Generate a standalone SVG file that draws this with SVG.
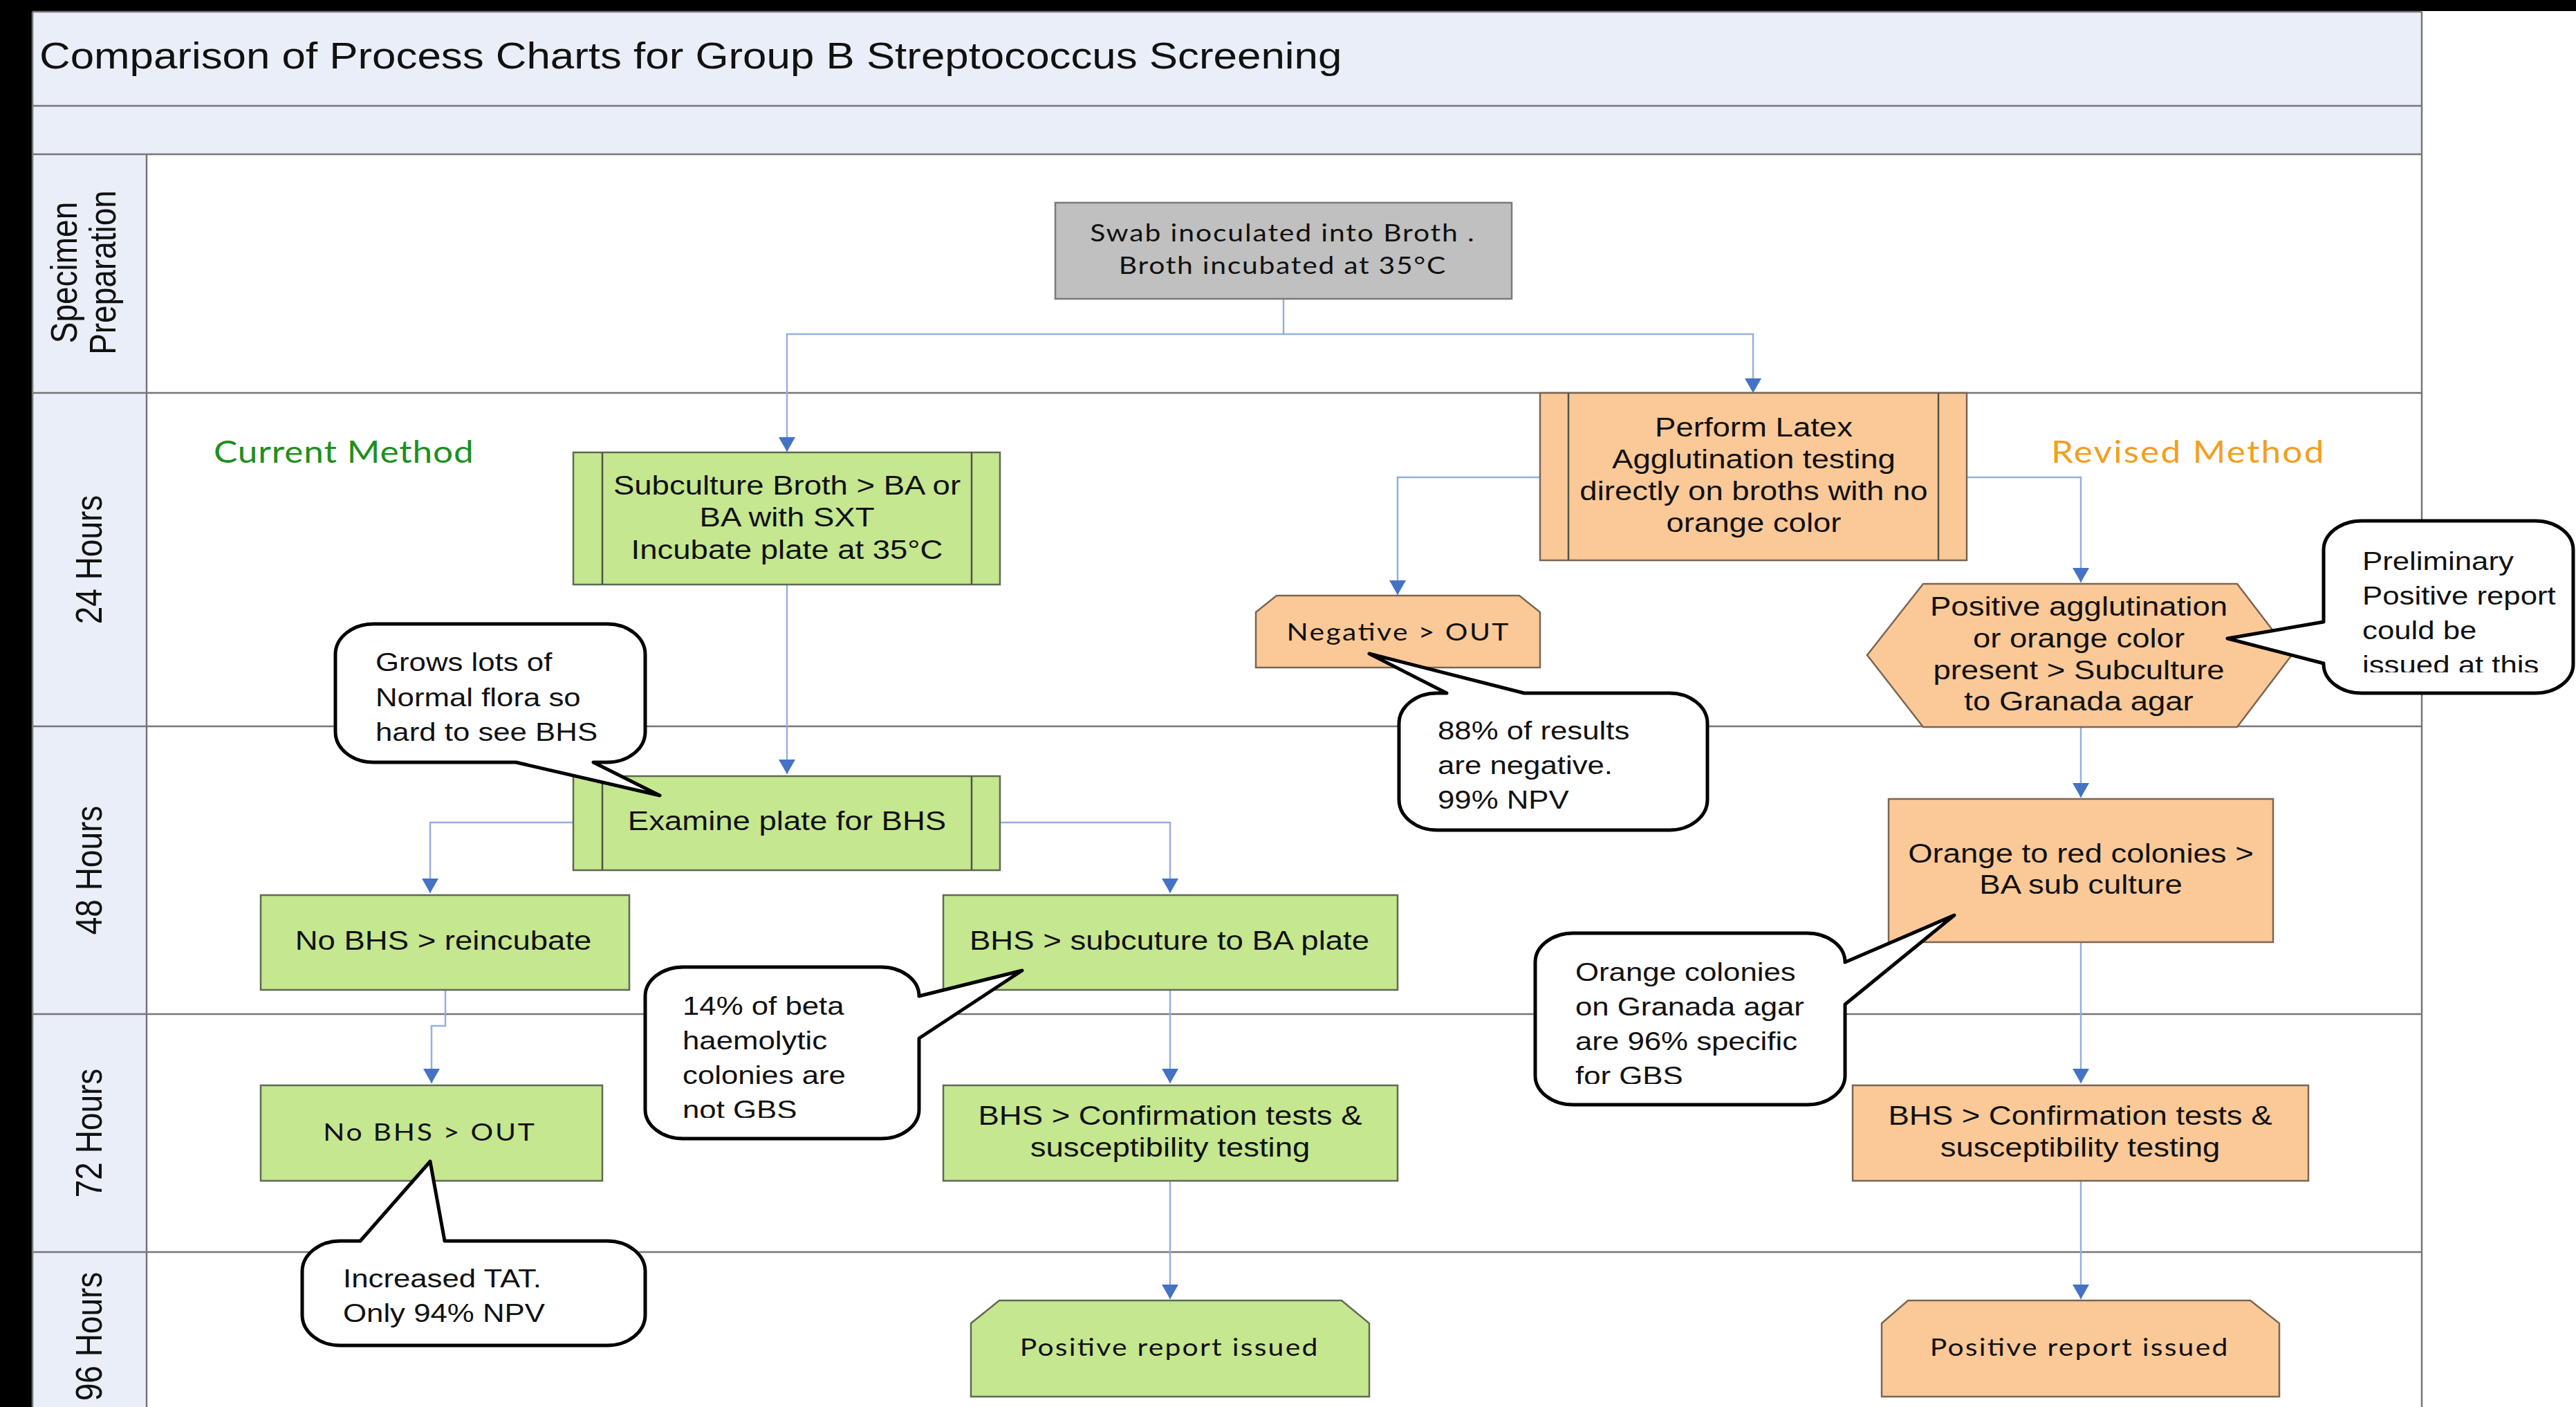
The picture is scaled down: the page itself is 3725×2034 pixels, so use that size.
<svg xmlns="http://www.w3.org/2000/svg" width="3725" height="2034" viewBox="0 0 3725 2034">
<defs>
<style>
.band{fill:#E9EEF8}
.grid{stroke:#767676;stroke-width:2.5;fill:none}
.t{font-family:"Liberation Sans",Arial,sans-serif;fill:#111}
.n{font-size:39px;text-anchor:middle}
.c{font-size:37.5px}
.lane{font-size:46px;text-anchor:middle}
.cal{font-family:Lato,"Open Sans",sans-serif;font-size:35px;text-anchor:middle;fill:#111}
.green{fill:#C5E78F;stroke:#5E6A55;stroke-width:2.5}
.orange{fill:#FBC997;stroke:#7A6654;stroke-width:2.5}
.gray{fill:#C0C0C0;stroke:#7A7A7A;stroke-width:2.5}
.inner{stroke:#4E5548;stroke-width:2.5;fill:none}
.callout{fill:#fff;stroke:#000;stroke-width:5;stroke-linejoin:round}
.conn{fill:none;stroke:#94B0DD;stroke-width:2.5;marker-end:url(#arr)}
</style>
<marker id="arr" markerUnits="userSpaceOnUse" markerWidth="22" markerHeight="25" refX="21" refY="12" orient="auto"><path d="M0,0 L21,12 L0,24 Z" fill="#4472C4"/></marker>
<clipPath id="clipD"><rect x="933" y="1398" width="396" height="218"/></clipPath>
<clipPath id="clipE"><rect x="2220" y="1349" width="448" height="218"/></clipPath>
<clipPath id="clipF"><rect x="3360" y="753" width="365" height="219"/></clipPath>
</defs>

<rect x="0" y="0" width="3725" height="2034" fill="#000"/>
<rect x="47" y="16" width="3678" height="2018" fill="#fff"/>

<g id="frame">
<rect class="band" x="47" y="17" width="3455" height="206"/>
<rect class="band" x="47" y="223" width="165" height="1811"/>
<path class="grid" d="M47,17 H3502 M47,153 H3502 M47,223 H3502 M47,568 H3502 M47,1050 H3502 M47,1466 H3502 M47,1810 H3502 M47,17 V2034 M212,223 V2034 M3502,17 V2034"/>
<text class="t" font-size="53" transform="translate(57 0) scale(1.167 1)" x="0" y="99">Comparison of Process Charts for Group B Streptococcus Screening</text>
<g transform="translate(111 394) scale(1.167 1) rotate(-90)"><text class="t lane" x="0" y="0">Specimen</text></g>
<g transform="translate(167 394) scale(1.167 1) rotate(-90)"><text class="t lane" x="0" y="0">Preparation</text></g>
<g transform="translate(147 809) scale(1.167 1) rotate(-90)"><text class="t lane" x="0" y="0">24 Hours</text></g>
<g transform="translate(147 1258) scale(1.167 1) rotate(-90)"><text class="t lane" x="0" y="0">48 Hours</text></g>
<g transform="translate(147 1638) scale(1.167 1) rotate(-90)"><text class="t lane" x="0" y="0">72 Hours</text></g>
<g transform="translate(147 1932) scale(1.167 1) rotate(-90)"><text class="t lane" x="0" y="0">96 Hours</text></g>
<g transform="translate(309 0) scale(1.167 1)"><text class="cal" style="text-anchor:start;font-size:44px;fill:#1F8F1F" x="0" y="669" textLength="322" lengthAdjust="spacing">Current Method</text></g>
<g transform="translate(2966 0) scale(1.167 1)"><text class="cal" style="text-anchor:start;font-size:44px;fill:#F29F1F" x="0" y="669" textLength="338" lengthAdjust="spacing">Revised Method</text></g>
</g>

<g id="connectors">
<path class="conn" d="M1856,432 V483 H1138 V653"/>
<path class="conn" d="M1856,483 H2535 V568"/>
<path class="conn" d="M1138,845 V1119"/>
<path class="conn" d="M2227,690 H2021 V860"/>
<path class="conn" d="M2844,690 H3009 V842"/>
<path class="conn" d="M829,1189 H622 V1291"/>
<path class="conn" d="M1446,1189 H1692 V1291"/>
<path class="conn" d="M644,1431 V1483 H624 V1566"/>
<path class="conn" d="M1692,1431 V1566"/>
<path class="conn" d="M1692,1707 V1878"/>
<path class="conn" d="M3009,1051 V1153"/>
<path class="conn" d="M3009,1362 V1566"/>
<path class="conn" d="M3009,1707 V1878"/>
</g>

<g id="swab">
<rect class="gray" x="1526" y="293" width="660" height="139"/>
<g transform="translate(1854 0) scale(1.167 1)"><text class="cal" x="0" y="349" textLength="476" lengthAdjust="spacing">Swab inoculated into Broth .</text>
<text class="cal" x="0" y="396" textLength="405" lengthAdjust="spacing">Broth incubated at 35°C</text></g>
</g>

<g id="subculture">
<rect class="green" x="829" y="654" width="617" height="191"/>
<path class="inner" d="M871,654 V845 M1405,654 V845"/>
<g transform="translate(1138 0) scale(1.167 1)"><text class="t n"><tspan x="0" y="715">Subculture Broth &gt; BA or</tspan><tspan x="0" y="761">BA with SXT</tspan><tspan x="0" y="808">Incubate plate at 35°C</tspan></text></g>
</g>

<g id="latex">
<rect class="orange" x="2227" y="568" width="617" height="242"/>
<path class="inner" d="M2268,568 V810 M2803,568 V810"/>
<g transform="translate(2536 0) scale(1.167 1)"><text class="t n"><tspan x="0" y="631">Perform Latex</tspan><tspan x="0" y="677">Agglutination testing</tspan><tspan x="0" y="723">directly on broths with no</tspan><tspan x="0" y="769">orange color</tspan></text></g>
</g>

<g id="negative">
<path class="orange" d="M1816,885 L1846,861 L2197,861 L2227,885 L2227,965 L1816,965 Z"/>
<g transform="translate(2021 0) scale(1.167 1)"><text class="cal" x="0" y="926" textLength="275" lengthAdjust="spacing">Negative &gt; OUT</text></g>
</g>

<g id="positive-agglutination">
<polygon class="orange" points="2700,947 2781,844 3235,844 3314,947 3235,1051 2781,1051"/>
<g transform="translate(3006 0) scale(1.167 1)"><text class="t n"><tspan x="0" y="890">Positive agglutination</tspan><tspan x="0" y="936">or orange color</tspan><tspan x="0" y="982">present &gt; Subculture</tspan><tspan x="0" y="1027">to Granada agar</tspan></text></g>
</g>

<g id="examine">
<rect class="green" x="829" y="1122" width="617" height="136"/>
<path class="inner" d="M871,1122 V1258 M1405,1122 V1258"/>
<g transform="translate(1138 0) scale(1.167 1)"><text class="t n" x="0" y="1200">Examine plate for BHS</text></g>
</g>

<g id="reincubate">
<rect class="green" x="377" y="1294" width="533" height="137"/>
<g transform="translate(641 0) scale(1.167 1)"><text class="t n" x="0" y="1373">No BHS &gt; reincubate</text></g>
</g>

<g id="subcuture-ba">
<rect class="green" x="1364" y="1294" width="657" height="137"/>
<g transform="translate(1691 0) scale(1.167 1)"><text class="t n" x="0" y="1373">BHS &gt; subcuture to BA plate</text></g>
</g>

<g id="orange-red">
<rect class="orange" x="2731" y="1155" width="556" height="207"/>
<g transform="translate(3009 0) scale(1.167 1)"><text class="t n"><tspan x="0" y="1247">Orange to red colonies  &gt;</tspan><tspan x="0" y="1292">BA sub culture</tspan></text></g>
</g>

<g id="no-bhs-out">
<rect class="green" x="377" y="1569" width="494" height="138"/>
<g transform="translate(620 0) scale(1.167 1)"><text class="cal" x="0" y="1649" textLength="262" lengthAdjust="spacing">No BHS &gt; OUT</text></g>
</g>

<g id="confirm-current">
<rect class="green" x="1364" y="1569" width="657" height="138"/>
<g transform="translate(1692 0) scale(1.167 1)"><text class="t n"><tspan x="0" y="1626">BHS &gt; Confirmation tests &amp;</tspan><tspan x="0" y="1672">susceptibility testing</tspan></text></g>
</g>

<g id="confirm-revised">
<rect class="orange" x="2679" y="1569" width="659" height="138"/>
<g transform="translate(3008 0) scale(1.167 1)"><text class="t n"><tspan x="0" y="1626">BHS &gt; Confirmation tests &amp;</tspan><tspan x="0" y="1672">susceptibility testing</tspan></text></g>
</g>

<g id="report-current">
<path class="green" d="M1404,1913 L1445,1880 L1940,1880 L1980,1913 L1980,2019 L1404,2019 Z"/>
<g transform="translate(1690 0) scale(1.167 1)"><text class="cal" x="0" y="1960" textLength="369" lengthAdjust="spacing">Positive report issued</text></g>
</g>

<g id="report-revised">
<path class="orange" d="M2721,1913 L2759,1880 L3254,1880 L3296,1913 L3296,2019 L2721,2019 Z"/>
<g transform="translate(3006 0) scale(1.167 1)"><text class="cal" x="0" y="1960" textLength="369" lengthAdjust="spacing">Positive report issued</text></g>
</g>

<g id="callout-flora">
<path class="callout" d="M540,902 H878 A55,44 0 0 1 933,946 V1058 A55,44 0 0 1 878,1102 H858 L954,1150 L746,1102 H540 A55,44 0 0 1 485,1058 V946 A55,44 0 0 1 540,902 Z"/>
<g transform="translate(543 0) scale(1.167 1)"><text class="t c"><tspan x="0" y="970">Grows lots of</tspan><tspan x="0" y="1021">Normal flora so</tspan><tspan x="0" y="1071">hard to see BHS</tspan></text></g>
</g>

<g id="callout-negative">
<path class="callout" d="M2078,1002 H2092 L1980,945 L2204,1002 H2414 A55,44 0 0 1 2469,1046 V1156 A55,44 0 0 1 2414,1200 H2078 A55,44 0 0 1 2023,1156 V1046 A55,44 0 0 1 2078,1002 Z"/>
<g transform="translate(2079 0) scale(1.167 1)"><text class="t c"><tspan x="0" y="1069">88% of results</tspan><tspan x="0" y="1119">are negative.</tspan><tspan x="0" y="1169">99% NPV</tspan></text></g>
</g>

<g id="callout-tat">
<path class="callout" d="M492,1794 H521 L622,1679 L643,1794 H878 A55,44 0 0 1 933,1838 V1901 A55,44 0 0 1 878,1945 H492 A55,44 0 0 1 437,1901 V1838 A55,44 0 0 1 492,1794 Z"/>
<g transform="translate(496 0) scale(1.167 1)"><text class="t c"><tspan x="0" y="1861">Increased TAT.</tspan><tspan x="0" y="1911">Only 94% NPV</tspan></text></g>
</g>

<g id="callout-beta">
<path class="callout" d="M988,1398 H1274 A55,42 0 0 1 1329,1440 L1478,1403 L1329,1501 V1604 A55,42 0 0 1 1274,1646 H988 A55,42 0 0 1 933,1604 V1440 A55,42 0 0 1 988,1398 Z"/>
<g clip-path="url(#clipD)"><g transform="translate(987 0) scale(1.167 1)"><text class="t c"><tspan x="0" y="1467">14% of beta</tspan><tspan x="0" y="1517">haemolytic</tspan><tspan x="0" y="1567">colonies are</tspan><tspan x="0" y="1617">not GBS</tspan></text></g></g>
</g>

<g id="callout-granada">
<path class="callout" d="M2275,1349 H2613 A55,42 0 0 1 2668,1391 L2826,1323 L2668,1452 V1555 A55,42 0 0 1 2613,1597 H2275 A55,42 0 0 1 2220,1555 V1391 A55,42 0 0 1 2275,1349 Z"/>
<g clip-path="url(#clipE)"><g transform="translate(2278 0) scale(1.167 1)"><text class="t c"><tspan x="0" y="1418">Orange colonies</tspan><tspan x="0" y="1468">on Granada agar</tspan><tspan x="0" y="1518">are 96% specific</tspan><tspan x="0" y="1568">for GBS</tspan></text></g></g>
</g>

<g id="callout-preliminary">
<path class="callout" d="M3415,753 H3666 A55,42 0 0 1 3721,795 V960 A55,42 0 0 1 3666,1002 H3415 A55,42 0 0 1 3360,960 V959 L3221,923 L3360,899 V795 A55,42 0 0 1 3415,753 Z"/>
<g clip-path="url(#clipF)"><g transform="translate(3416 0) scale(1.167 1)"><text class="t c"><tspan x="0" y="824">Preliminary</tspan><tspan x="0" y="874">Positive report</tspan><tspan x="0" y="924">could be</tspan><tspan x="0" y="974">issued at this</tspan></text></g></g>
</g>
</svg>
